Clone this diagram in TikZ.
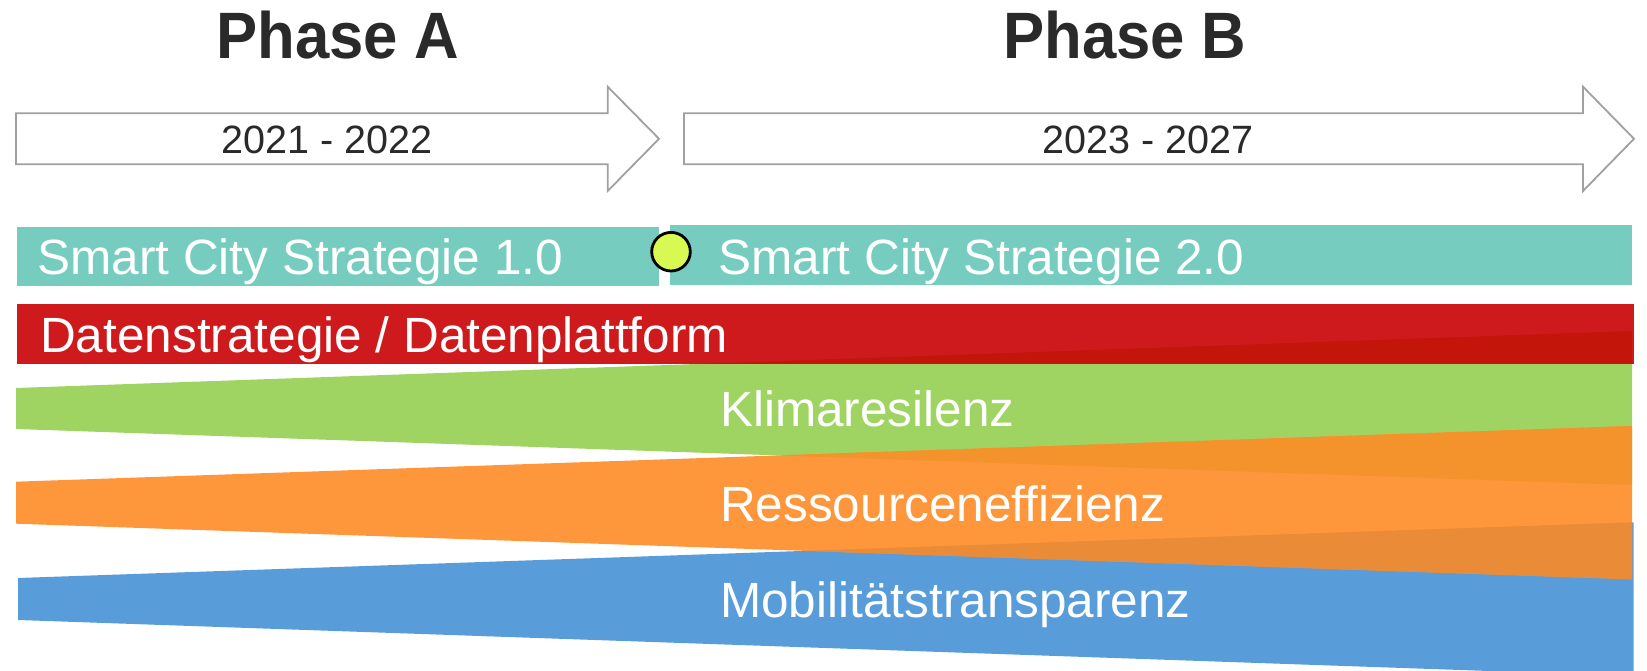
\documentclass[tikz,border=0pt]{standalone}
\usepackage{fontspec}
\setmainfont{Liberation Sans}
\definecolor{teal1}{HTML}{76CDBF}
\definecolor{red1}{HTML}{CF1A1D}
\definecolor{redov}{HTML}{C3150A}
\definecolor{green1}{HTML}{9FD463}
\definecolor{orange1}{HTML}{FE963C}
\definecolor{orgov}{HTML}{F4922C}
\definecolor{orbov}{HTML}{EA8B37}
\definecolor{blue1}{HTML}{589DDA}
\definecolor{dot}{HTML}{D8F852}
\definecolor{txt}{HTML}{2A2A2A}
\definecolor{arrowgray}{HTML}{A0A0A0}
\begin{document}
\begin{tikzpicture}[x=1pt,y=-1pt,
  lbl/.style={anchor=base west,inner sep=0pt,text=white,font=\fontsize{49.5}{59}\selectfont},
  datelbl/.style={anchor=base west,inner sep=0pt,text=txt,font=\fontsize{39.5}{47}\selectfont},
  phaselbl/.style={anchor=base west,inner sep=0pt,text=txt,font=\fontsize{65.6}{78}\selectfont\bfseries},
  timearrow/.style={draw=arrowgray,line width=1.8pt,fill=white,line join=miter}]
\useasboundingbox (0,0) rectangle (1647,671);
\begin{scope}
\clip (0,0) rectangle (1647,671);
% time arrows
\draw[timearrow] (16,113.3) -- (607.7,113.3) -- (607.7,86.7) -- (659,138.8) -- (607.7,191) -- (607.7,164.3) -- (16,164.3) -- cycle;
\draw[timearrow] (684,113.3) -- (1583,113.3) -- (1583,86.7) -- (1634,138.8) -- (1583,191) -- (1583,164.3) -- (684,164.3) -- cycle;
% phase titles
\node[phaselbl] (pa) at (216,58.3) {\scalebox{0.94}[1]{Phase A}};
\node[phaselbl] (pb) at (1003,58.3) {\scalebox{0.94}[1]{Phase B}};
\node[datelbl] (da) at (221.7,153.3) {2021 - 2022};
\node[datelbl] (db) at (1042.5,153.3) {2023 - 2027};
% strategy bars
\fill[teal1] (17,227) rectangle (659,285.7);
\fill[teal1] (670,225) rectangle (1632,285);
% wedges
\fill[blue1] (18,578) -- (1633.5,522.3) -- (1633.5,676) -- (18,620) -- cycle;
\fill[green1] (16,388) -- (1632,331) -- (1632,485) -- (16,429) -- cycle;
\fill[orange1] (16,481.7) -- (1632,426) -- (1632,579.3) -- (16,523.7) -- cycle;
\begin{scope}
\clip (16,388) -- (1632,331) -- (1632,485) -- (16,429) -- cycle;
\fill[orgov] (16,481.7) -- (1632,426) -- (1632,579.3) -- (16,523.7) -- cycle;
\end{scope}
\begin{scope}
\clip (18,578) -- (1633.5,522.3) -- (1633.5,676) -- (18,620) -- cycle;
\fill[orbov] (16,481.7) -- (1632,426) -- (1632,579.3) -- (16,523.7) -- cycle;
\end{scope}
% data bar
\fill[red1] (17,304) rectangle (1634,364);
\begin{scope}
\clip (16,388) -- (1632,331) -- (1632,485) -- (16,429) -- cycle;
\fill[redov] (17,304) rectangle (1634,364);
\end{scope}
\end{scope}
% labels
\node[lbl] (s1) at (37.3,275) {Smart City Strategie 1.0};
\node[lbl] (s2) at (718.5,275) {Smart City Strategie 2.0};
\node[lbl] (ds) at (40,352.7) {Datenstrategie / Datenplattform};
\node[lbl] (kl) at (720,426) {Klimaresilenz};
\node[lbl] (re) at (720,521) {Ressourceneffizienz};
\node[lbl] (mo) at (720,617) {Mobilitätstransparenz};
% milestone
\node[circle,draw=black,line width=2.8pt,fill=dot,minimum size=38.6pt,inner sep=0pt] (ms) at (671,251.7) {};
\end{tikzpicture}
\end{document}
